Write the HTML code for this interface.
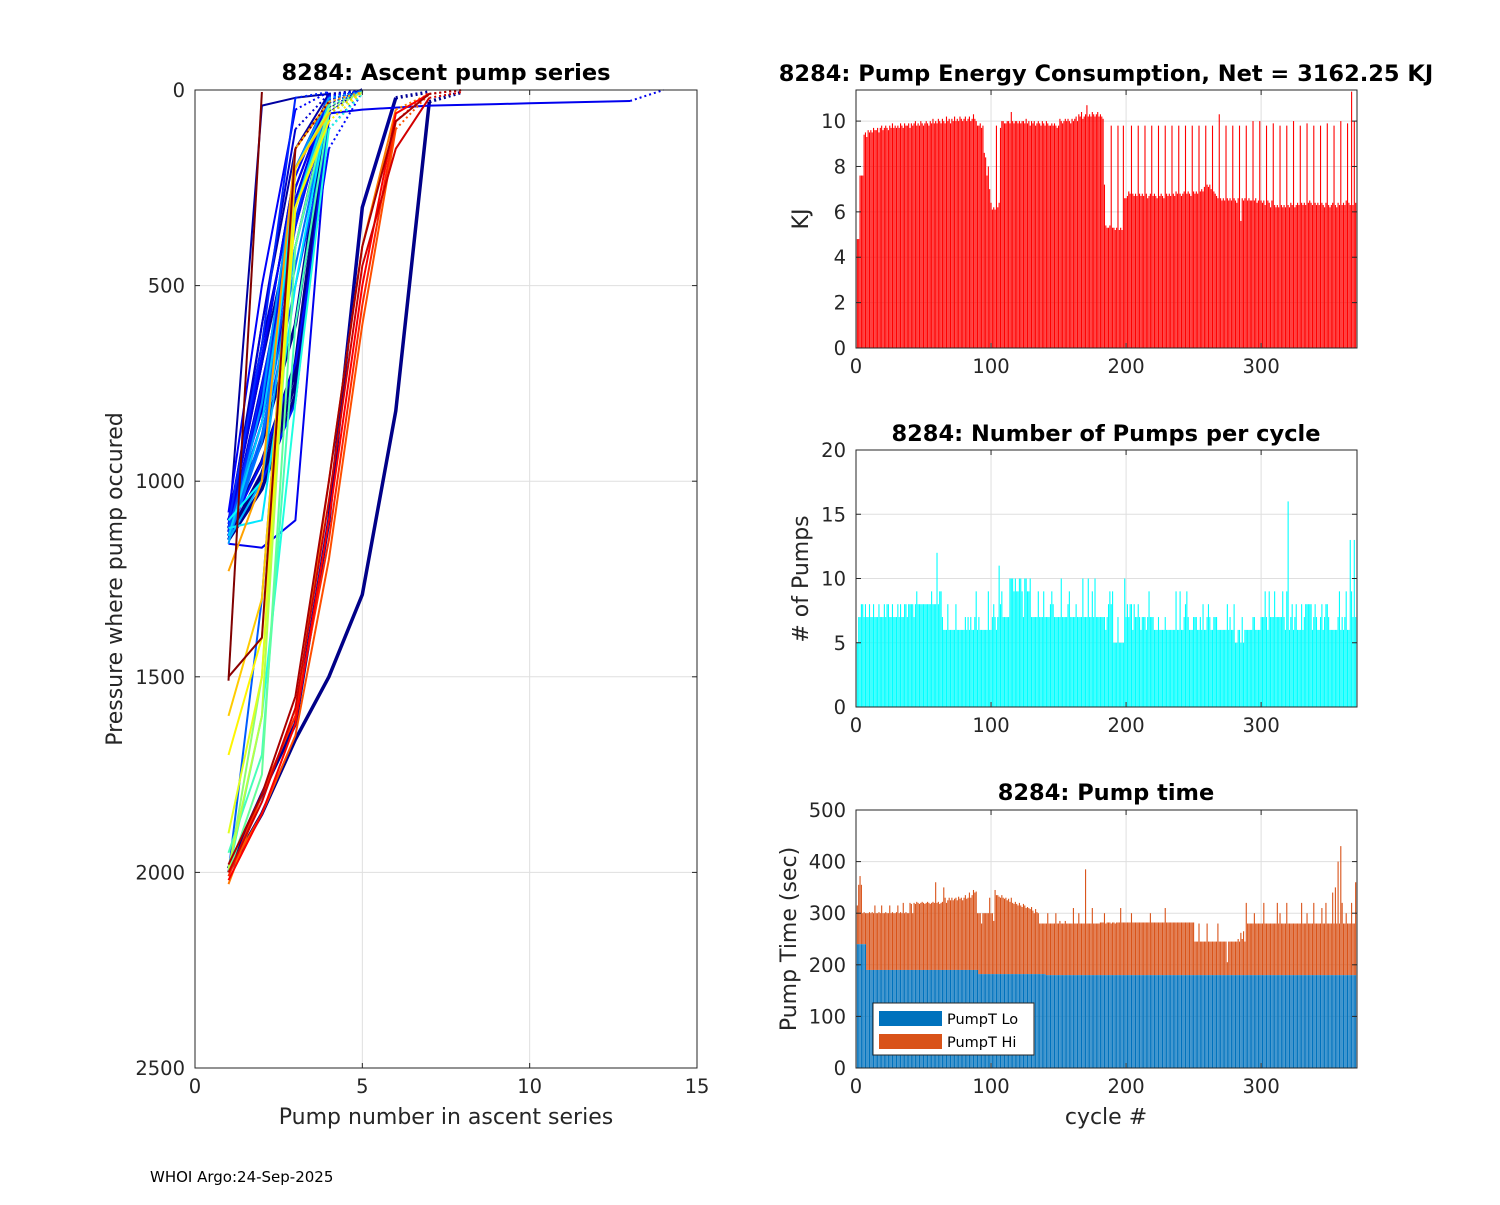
<!DOCTYPE html>
<html><head><meta charset="utf-8">
<style>
html,body{margin:0;padding:0;background:#fff;}
svg text{font-family:"DejaVu Sans","Liberation Sans",sans-serif;}
</style></head>
<body>
<svg id="fig" width="1500" height="1200" viewBox="0 0 1500 1200" xmlns="http://www.w3.org/2000/svg">
<rect width="1500" height="1200" fill="#fff"/>
<g id="left"></g>
<g id="energy"></g>
<g id="pumps"></g>
<g id="ptime"></g>
<text x="150" y="1182" font-size="15" fill="#000">WHOI Argo:24-Sep-2025</text>
</svg>
<script>
// ---- Data ----
const energyKJ = [4.8,4.8,7.6,7.6,7.6,9.4,9.5,9.3,9.6,9.5,
9.6,9.5,9.7,9.6,9.6,9.7,9.5,9.7,9.8,9.6,
9.7,9.8,9.7,9.6,9.8,9.7,9.9,9.7,9.8,9.7,
9.8,9.7,9.9,9.8,9.7,9.9,9.8,9.8,9.9,9.7,
9.9,9.8,9.9,10.0,9.8,9.9,9.8,10.0,9.9,9.8,
9.9,10.0,9.9,9.8,10.0,9.9,10.1,9.9,10.0,9.9,
10.1,10.0,9.9,10.1,10.0,9.9,10.2,10.0,10.1,9.9,
10.1,10.0,10.2,10.0,10.1,10.0,10.2,10.1,10.0,10.1,
10.2,10.0,10.1,10.2,10.0,10.1,10.3,10.1,10.0,9.8,
9.8,9.9,9.7,9.8,8.6,8.4,7.6,8.0,7.0,6.4,
6.1,6.2,6.1,9.8,6.2,6.4,9.7,10.0,10.0,9.9,
9.9,10.0,10.0,9.9,10.4,10.0,9.9,10.0,10.0,9.9,
10.0,9.9,10.0,10.0,9.9,10.1,9.9,10.0,9.8,10.0,
9.9,10.0,9.8,9.9,10.0,9.9,9.8,10.0,9.9,9.8,
10.0,9.9,9.8,9.8,9.9,9.8,9.9,9.8,9.7,9.8,
10.1,10.0,9.9,10.0,10.1,10.0,10.1,10.0,9.9,10.1,
10.0,10.1,10.2,10.0,10.3,10.2,10.4,10.1,10.2,10.3,
10.7,10.2,10.3,10.2,10.4,10.3,10.2,10.3,10.4,10.2,
10.3,10.2,10.1,7.2,5.4,5.3,5.3,5.4,9.8,5.3,
5.3,5.2,5.3,9.8,5.2,5.3,5.2,9.8,6.6,6.6,
6.7,6.9,6.8,9.8,6.8,6.7,6.8,6.7,9.8,6.8,
6.7,6.8,6.7,9.8,6.8,6.6,6.7,6.8,9.8,6.7,
6.8,6.7,6.6,9.8,6.7,6.8,6.7,6.6,9.8,6.8,
6.7,6.8,6.7,9.8,6.8,6.7,6.9,6.8,9.8,6.8,
6.7,6.8,6.9,9.8,6.8,6.9,6.8,6.7,9.8,6.9,
6.8,6.9,6.8,9.8,6.9,7.0,6.9,7.1,9.8,7.2,
7.1,7.2,7.0,9.8,6.9,6.8,6.7,6.6,10.3,6.6,
6.5,6.6,6.5,9.8,6.6,6.5,6.6,6.5,9.8,6.6,
6.5,6.4,6.6,9.8,5.6,6.6,6.5,6.6,9.8,6.5,
6.6,6.5,6.5,10.0,6.5,6.6,6.4,6.5,10.0,6.5,
6.4,6.5,6.3,9.8,6.5,6.4,6.2,6.5,9.9,6.3,
6.2,6.3,6.2,9.8,6.3,6.2,6.3,6.2,9.8,6.3,
6.2,6.4,6.3,10.0,6.2,6.3,6.4,6.3,9.8,6.4,
6.3,6.4,6.3,9.9,6.4,6.5,6.4,6.3,9.8,6.4,
6.3,6.4,6.3,9.8,6.4,6.3,6.2,6.4,9.9,6.3,
6.2,6.3,6.4,9.8,6.3,6.2,6.4,6.3,10.0,6.3,
6.4,6.3,6.5,9.9,6.4,6.3,11.3,6.3,10.0,6.4];

const pumpCount = [5,7,7,8,8,7,8,7,7,8,
7,7,8,7,7,7,8,7,7,7, 8,7,8,8,7,7,8,7,7,7, 8,7,8,7,7,8,8,7,8,8,
8,8,7,8,9,8,8,8,8,8, 8,8,8,8,8,9,8,8,8,12, 8,9,9,7,6,6,6,8,6,6,
6,6,6,8,6,6,6,6,6,6, 7,6,7,6,7,6,6,7,9,6, 7,6,6,6,6,6,6,9,6,6,
7,8,7,6,7,11,8,9,7,7, 7,7,7,10,10,10,9,10,9,9, 10,10,9,7,10,10,9,9,10,7,
7,7,7,7,9,7,7,7,9,7, 7,7,7,8,9,8,7,7,7,7, 7,10,7,7,7,7,8,9,7,7,
7,7,8,7,7,7,7,10,7,7, 7,10,7,7,9,7,10,7,7,7, 7,7,7,7,6,7,8,9,8,9,
5,5,5,7,5,5,5,5,10,7, 8,7,8,8,6,8,7,7,8,7, 6,7,7,7,6,7,9,7,7,7,
6,6,6,7,6,6,6,6,7,6, 6,6,6,6,6,6,9,6,6,9, 6,6,7,8,9,7,6,6,6,7,
7,7,6,6,7,6,8,6,6,7, 8,7,6,6,7,7,7,6,6,6, 6,6,6,6,8,6,7,6,6,8,
5,5,6,6,5,7,5,6,6,6, 6,6,6,7,7,6,6,6,6,7, 7,7,9,7,6,9,7,7,7,9,
7,7,7,7,7,9,7,6,9,16, 6,7,8,6,7,8,6,6,6,8, 6,7,8,8,8,8,8,6,7,8,
7,6,6,7,8,6,7,8,8,7, 6,6,6,6,6,6,7,9,6,7, 6,7,9,6,6,13,9,7,13,7];

const pumpTimeLo = [240,240,240,240,240,240,240,190,190,190,
190,190,190,190,190,190,190,190,190,190, 190,190,190,190,190,190,190,190,190,190,
190,190,190,190,190,190,190,190,190,190, 190,190,190,190,190,190,190,190,190,190,
190,190,190,190,190,190,190,190,190,190, 190,190,190,190,190,190,190,190,190,190,
190,190,190,190,190,190,190,190,190,190, 190,190,190,190,190,190,190,190,190,190,
182,182,182,182,182,182,182,182,182,182, 182,182,182,182,182,182,182,182,182,182,
182,182,182,182,182,182,182,182,182,182, 182,182,182,182,182,182,182,182,182,182,
182,182,182,182,182,182,182,182,182,182, 180,180,180,180,180,180,180,180,180,180,
180,180,180,180,180,180,180,180,180,180, 180,180,180,180,180,180,180,180,180,180,
180,180,180,180,180,180,180,180,180,180, 180,180,180,180,180,180,180,180,180,180,
180,180,180,180,180,180,180,180,180,180, 180,180,180,180,180,180,180,180,180,180,
180,180,180,180,180,180,180,180,180,180, 180,180,180,180,180,180,180,180,180,180,
180,180,180,180,180,180,180,180,180,180, 180,180,180,180,180,180,180,180,180,180,
180,180,180,180,180,180,180,180,180,180, 180,180,180,180,180,180,180,180,180,180,
180,180,180,180,180,180,180,180,180,180, 180,180,180,180,180,180,180,180,180,180,
180,180,180,180,180,180,180,180,180,180, 180,180,180,180,180,180,180,180,180,180,
180,180,180,180,180,180,180,180,180,180, 180,180,180,180,180,180,180,180,180,180,
180,180,180,180,180,180,180,180,180,180, 180,180,180,180,180,180,180,180,180,180,
180,180,180,180,180,180,180,180,180,180, 180,180,180,180,180,180,180,180,180,180];

const pumpTimeTotal = [315,355,372,355,300,302,300,300,300,302,
300,302,300,315,300,300,302,300,315,300, 300,302,300,300,315,300,302,300,300,302,
315,300,302,300,320,300,302,300,300,320, 318,300,320,318,322,320,318,320,322,320,
318,320,322,320,318,320,322,320,360,320, 322,318,320,322,350,330,320,325,330,325,
330,325,328,330,325,332,328,330,325,330, 335,328,330,340,330,335,345,340,342,300,
300,300,280,300,300,300,300,300,330,300, 300,285,345,335,335,332,330,335,330,328,
330,325,328,322,330,320,318,322,318,315, 320,315,312,318,315,310,312,310,308,312,
305,300,308,302,300,280,280,280,280,280, 280,300,280,280,280,280,280,300,280,280,
285,280,280,280,285,280,280,280,280,280, 310,280,280,280,300,280,280,280,280,385,
280,280,280,280,310,280,280,280,280,280, 282,282,282,300,280,282,282,282,280,282,
282,280,282,282,282,310,282,282,282,282, 282,282,282,300,282,282,282,282,282,282,
282,282,282,282,282,282,282,300,282,282, 282,282,282,282,282,282,282,282,310,282,
282,282,282,282,282,282,282,282,282,282, 282,282,282,282,282,282,282,282,282,282,
245,245,245,280,245,245,245,245,245,280, 245,245,245,245,245,245,245,280,245,245,
245,245,245,245,205,245,245,245,245,245, 245,245,250,245,262,250,265,245,320,280,
280,280,280,280,300,280,280,280,280,280, 280,320,280,280,280,280,280,280,280,280,
280,320,280,300,280,280,280,280,320,280, 280,280,280,280,280,280,280,280,280,320,
280,280,280,300,280,280,280,280,320,280, 280,280,280,280,310,280,280,320,280,280,
280,280,340,280,350,280,400,280,430,320, 280,280,300,280,280,280,320,280,280,360];

const profCycles = [1,2,3,4,5,6,8,10,12,14,15,18,20,22,25,28,30,33,35,38,40,42,45,48,50,52,55,58,60,65,70,75,80,85,90,100,110,120,130,140,150,165,175,190,205,220,235,250,265,280,295,310,325,340,355,365,370];
const profPressures = [
[1130,1000,750,50,0],
[1120,950,700,40,0],
[2000,1850,1660,1500,1290,820,30,5],
[1140,980,720,30,0],
[1100,900,600,30,0],
[1150,1020,780,60,0],
[1990,1800,1620,1100,300,20,5],
[1100,700,300,20,0],
[1130,40,20,10,5],
[1120,600,150,10,0],
[1110,800,300,15,0],
[1140,850,250,20,0],
[1120,700,200,15,5],
[1100,650,250,20,0],
[1140,800,300,20,3],
[1130,750,350,30,0],
[1150,600,100,10],
[1120,700,200,20,0],
[1100,900,400,30,5],
[1110,820,280,20,0],
[1160,1170,1100,60,50,45,40,38,36,34,32,30,28,0],
[1120,780,250,25,0],
[1080,500,50,5],
[1100,680,220,15,0],
[1130,950,700,150,5],
[1120,850,350,30,0],
[1100,1000,800,50,5],
[1140,760,300,20,0],
[1110,650,20,5],
[1130,800,330,25,0],
[1140,900,500,100,5],
[1120,850,400,40,0],
[2000,1300,200,20,5],
[1140,880,450,50,0],
[1150,900,300,50,5],
[1160,800,200,20,5],
[1150,1000,400,60,3],
[1140,850,300,30,5],
[1120,1100,500,40,5],
[1100,1000,200,50,5],
[2000,1600,800,100,10],
[1950,1700,600,60,10],
[2000,1750,400,40,5],
[2000,1500,300,60,5],
[1990,1600,200,50,5],
[1900,1500,200,60,5],
[1700,1400,300,80,5],
[1600,1300,200,60,5],
[1230,1000,150,30,5],
[2030,1800,1600,1000,400,50,10],
[2000,1850,1650,1200,600,100,10],
[2010,1800,1600,1150,550,80,5],
[2020,1850,1620,1100,500,60,10,0],
[2000,1820,1580,1050,450,150,20,5],
[1980,1800,1550,1000,400,80,10,0],
[1500,1400,150,30],
[1510,5]];

const leftXTicks = [0,5,10,15];
const leftYTicks = [0,500,1000,1500,2000,2500];
const cycleTicks = [0,100,200,300];
const energyTicks = [0,2,4,6,8,10];
const pumpTicks = [0,5,10,15,20];
const timeTicks = [0,100,200,300,400,500];

// ---- helpers ----
const NS = "http://www.w3.org/2000/svg";
function mk(parent, tag, attrs, text){
  const e = document.createElementNS(NS, tag);
  for (const k in attrs) e.setAttribute(k, attrs[k]);
  if (text !== undefined) e.textContent = text;
  parent.appendChild(e);
  return e;
}
function jet(t){
  t = Math.max(0, Math.min(1, t));
  const r = Math.max(0, Math.min(1, 1.5 - Math.abs(4*t - 3)));
  const g = Math.max(0, Math.min(1, 1.5 - Math.abs(4*t - 2)));
  const b = Math.max(0, Math.min(1, 1.5 - Math.abs(4*t - 1)));
  return `rgb(${Math.round(r*255)},${Math.round(g*255)},${Math.round(b*255)})`;
}
const TICKC = "#262626";

function axesFrame(g, L, T, R, B, xs, ys, xticks, yticks){
  xticks.forEach(v=>{
    const x = xs(v);
    if (x > L+0.5 && x < R-0.5){
      const gl = mk(g,'line',{x1:x,y1:T,x2:x,y2:B,stroke:'#dfdfdf','stroke-width':1});
      
      
    }
  });
  yticks.forEach(v=>{
    const y = ys(v);
    if (y > T+0.5 && y < B-0.5){
      const gl = mk(g,'line',{x1:L,y1:y,x2:R,y2:y,stroke:'#dfdfdf','stroke-width':1});
      
      
    }
  });
}
function axesBox(g, L, T, R, B, xs, ys, xticks, yticks){
  const box = mk(g,'rect',{x:L,y:T,width:R-L,height:B-T,fill:'none',stroke:TICKC,'stroke-width':1});
  
  
  xticks.forEach(v=>{
    const x = xs(v);
    mk(g,'line',{x1:x,y1:B,x2:x,y2:B-5,stroke:TICKC});
    mk(g,'line',{x1:x,y1:T,x2:x,y2:T+5,stroke:TICKC});
    const t = mk(g,'text',{x:x,y:B+25,'font-size':19.5,'text-anchor':'middle',fill:TICKC},String(v));
    
    
  });
  yticks.forEach(v=>{
    const y = ys(v);
    mk(g,'line',{x1:L,y1:y,x2:L+5,y2:y,stroke:TICKC});
    mk(g,'line',{x1:R,y1:y,x2:R-5,y2:y,stroke:TICKC});
    const t = mk(g,'text',{x:L-10,y:y+7,'font-size':19.5,'text-anchor':'end',fill:TICKC},String(v));
    
    
  });
}
function title(g, x, y, s, name){
  const t = mk(g,'text',{x:x,y:y,'font-size':22.5,'font-weight':'bold','text-anchor':'middle',fill:'#000','xml:space':'preserve'},s);
  
  
}
function ylabel(g, x, y, s, name){
  const t = mk(g,'text',{x:x,y:y,'font-size':22,'text-anchor':'middle',fill:TICKC,transform:`rotate(-90 ${x} ${y})`},s);
  
  
}
function xlabel(g, x, y, s, name){
  const t = mk(g,'text',{x:x,y:y,'font-size':22,'text-anchor':'middle',fill:TICKC},s);
  
  
}

// ---- Left plot ----
(function(){
  const g = document.getElementById('left');
  const L=195,T=90,R=697,B=1068;
  const xs = v => L + v/15*(R-L);
  const ys = v => T + v/2500*(B-T);
  axesFrame(g,L,T,R,B,xs,ys,leftXTicks,leftYTicks);
  const clip = mk(g,'clipPath',{id:'lclip'});
  mk(clip,'rect',{x:L,y:T-3,width:R-L,height:B-T+3});
  const lines = mk(g,'g',{'clip-path':'url(#lclip)'});
  profPressures.forEach((arr,i)=>{
    const c = profCycles[i];
    const col = jet(c/370);
    const w = c < 10 ? 3.5 : 2;
    let solid = '';
    const n = arr.length;
    const lastSolid = Math.max(1, n-2);
    for (let k=0;k<=lastSolid;k++){
      solid += (k?'L':'M') + xs(k+1).toFixed(1)+','+ys(arr[k]).toFixed(1);
    }
    const p = mk(lines,'path',{d:solid,fill:'none',stroke:col,'stroke-width':w,'stroke-linejoin':'round'});
    
    
    if (lastSolid < n-1){
      let d = '';
      for (let k=lastSolid;k<n;k++) d += (k>lastSolid?'L':'M') + xs(k+1).toFixed(1)+','+ys(arr[k]).toFixed(1);
      const q = mk(lines,'path',{d:d,fill:'none',stroke:col,'stroke-width':w,'stroke-dasharray':'2,3'});
      
      
    }
  });
  axesBox(g,L,T,R,B,xs,ys,leftXTicks,leftYTicks);
  title(g,446,80,'8284: Ascent pump series','left-title');
  ylabel(g,122,579,'Pressure where pump occured','left-y-axis-title');
  xlabel(g,446,1124,'Pump number in ascent series','left-x-axis-title');
})();

// ---- Right plots ----
const RL=856, RR=1357, XMAX=371;
const cx = v => RL + v/XMAX*(RR-RL);
const BW = 1.1;

(function(){
  const g = document.getElementById('energy');
  const T=90,B=348, YMAX=11.37;
  const ys = v => B - v/YMAX*(B-T);
  axesFrame(g,RL,T,RR,B,cx,ys,cycleTicks,energyTicks);
  energyKJ.forEach((v,i)=>{
    if (i+1 > XMAX) return;
    const y = Math.max(T, ys(v));
    const r = mk(g,'rect',{x:(cx(i+1)-BW/2).toFixed(2),y:y.toFixed(2),width:BW,height:(B-y).toFixed(2),fill:'#ff0000'});
    
    
  });
  axesBox(g,RL,T,RR,B,cx,ys,cycleTicks,energyTicks);
  title(g,1106,81,'8284: Pump Energy Consumption,  Net = 3162.25 KJ','energy-title');
  ylabel(g,808,219,'KJ','energy-y-axis-title');
})();

(function(){
  const g = document.getElementById('pumps');
  const T=450,B=707, YMAX=20;
  const ys = v => B - v/YMAX*(B-T);
  axesFrame(g,RL,T,RR,B,cx,ys,cycleTicks,pumpTicks);
  pumpCount.forEach((v,i)=>{
    if (i+1 > XMAX) return;
    const y = ys(v);
    const r = mk(g,'rect',{x:(cx(i+1)-BW/2).toFixed(2),y:y.toFixed(2),width:BW,height:(B-y).toFixed(2),fill:'#00ffff'});
    
    
  });
  axesBox(g,RL,T,RR,B,cx,ys,cycleTicks,pumpTicks);
  title(g,1106,441,'8284: Number of Pumps per cycle','pumps-title');
  ylabel(g,808,579,'# of Pumps','pumps-y-axis-title');
})();

(function(){
  const g = document.getElementById('ptime');
  const T=810,B=1068, YMAX=500;
  const ys = v => B - v/YMAX*(B-T);
  axesFrame(g,RL,T,RR,B,cx,ys,cycleTicks,timeTicks);
  pumpTimeLo.forEach((lo,i)=>{
    if (i+1 > XMAX || i >= pumpTimeTotal.length) return;
    const tot = pumpTimeTotal[i];
    const x = (cx(i+1)-BW/2).toFixed(2);
    const yl = ys(lo), yt = ys(tot);
    const h = mk(g,'rect',{x:x,y:yt.toFixed(2),width:BW,height:(yl-yt).toFixed(2),fill:'#d95319'});
    
    
    const r = mk(g,'rect',{x:x,y:yl.toFixed(2),width:BW,height:(B-yl).toFixed(2),fill:'#0072bd'});
    
    
  });
  axesBox(g,RL,T,RR,B,cx,ys,cycleTicks,timeTicks);
  title(g,1106,800,'8284: Pump time','pump-time-title');
  ylabel(g,796,939,'Pump Time (sec)','pump-time-y-axis-title');
  xlabel(g,1106,1124,'cycle #','cycle-x-axis-title');
  const lg = mk(g,'g',{});
  
  
  mk(lg,'rect',{x:873,y:1003,width:161,height:52,fill:'#fff',stroke:TICKC,'stroke-width':1});
  const e1 = mk(lg,'rect',{x:879,y:1011,width:63,height:15,fill:'#0072bd'});
  
  
  const t1 = mk(lg,'text',{x:947,y:1024,'font-size':14.5,fill:'#000'},'PumpT Lo');
  
  
  const e2 = mk(lg,'rect',{x:879,y:1034,width:63,height:15,fill:'#d95319'});
  
  
  const t2 = mk(lg,'text',{x:947,y:1047,'font-size':14.5,fill:'#000'},'PumpT Hi');
  
  
})();
</script>
</body></html>
